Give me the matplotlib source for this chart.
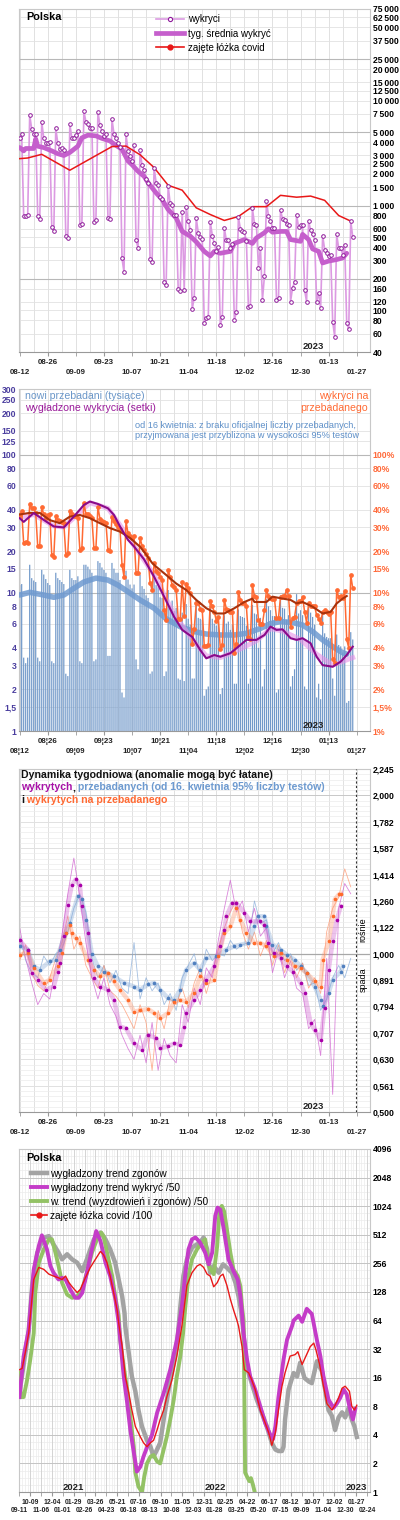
import matplotlib.pyplot as plt
import matplotlib.transforms as mtransforms
from matplotlib.lines import Line2D
from matplotlib.ticker import NullFormatter
import numpy as np
import pandas as pd

plt.rcParams['font.family'] = ['Liberation Sans', 'DejaVu Sans']

# ---------------- data: panels 1-3 (2022-08-12 .. 2023-01-26) ----------------
start = pd.Timestamp('2022-08-12')
days = pd.date_range(start, periods=167)

cases = [4360, 4790, 790, 790, 820, 7330, 5350, 4800, 4800, 790, 740,
         6280, 4400, 3990, 3990, 4000, 625, 568,
         5450, 3930, 3440, 3500, 3400, 517, 494,
         5970, 4400, 4360, 4700, 5120, 658, 666,
         8010, 6280, 5940, 5540, 5500, 690, 730,
         7850, 5850, 5120, 4650, 4790, 760, 750,
         6670, 4800, 4360, 3990, 3640, 313, 230,
         4790, 3320, 2970, 2660, 3785, 465, 394,
         3370, 2420, 2180, 1780, 1650, 307, 288,
         2300, 1650, 1560, 1200, 1150, 185, 176,
         1540, 1050, 1010, 810, 820, 159, 153,
         870, 155, 974, 710, 590, 103, 132,
         760, 550, 497, 483, 75, 85, 87,
         700, 517, 435, 366, 405, 72, 87,
         610, 465, 465, 394, 430, 80, 96,
         780, 600, 566, 555, 460, 107, 111,
         940, 672, 658, 254, 394, 126, 213,
         1100, 795, 710, 616, 616, 126, 132,
         905, 745, 730, 670, 658, 121, 164, 185,
         820, 620, 650, 645, 157, 120,
         710, 580, 535, 473, 121, 146, 105,
         517, 380, 354, 328, 340, 78, 56,
         530, 390, 394, 340, 420, 75, 66,
         710, 500]

cases_avg_day = [0, 2, 3, 7, 8, 9, 12, 16, 19, 22, 25, 29, 31, 34, 38, 41, 45, 48, 51, 54, 56, 59,
                 62, 64, 68, 71, 74, 78, 81, 85, 88, 92, 95, 97, 100, 105, 107, 112, 116, 118, 122,
                 124, 126, 130, 133, 135, 140, 141, 144, 146, 149, 151, 154, 158, 161, 163]
cases_avg = [3575, 3320, 3500, 3500, 4320, 3680, 3570, 3320, 3120, 3000, 3205, 3680, 4420, 4690,
             4620, 4370, 4130, 3750, 3440, 2660, 2450, 2120, 1900, 1650, 1320, 1140, 915, 760, 566,
             510, 450, 365, 330, 365, 350, 365, 435, 473, 435, 490, 550, 600, 556, 566, 566, 473,
             455, 530, 473, 385, 365, 283, 295, 305, 316, 350]

beds_day = [0, 4, 11, 25, 46, 53, 60, 67, 74, 81, 88, 95, 102, 109, 116, 123, 130, 138, 145, 152, 159, 165]
beds = [2800, 2840, 3080, 2170, 3650, 3690, 3050, 2300, 1560, 1400, 950, 820, 720, 785, 975, 975,
        1250, 1200, 1230, 1120, 802, 710]

tests = [11.4, 11.6, 3.4, 3.1, 3.4, 16.0, 12.8, 12.3, 12.0, 3.4, 3.2,
         14.7, 13.6, 12.6, 11.8, 11.4, 3.2, 3.1,
         14.0, 12.8, 12.4, 12.0, 11.6, 2.6, 2.5,
         14.7, 12.8, 12.4, 12.4, 13.2, 3.2, 3.1,
         16.0, 16.0, 15.5, 14.8, 14.0, 3.2, 3.3,
         17.0, 16.5, 15.3, 14.7, 14.0, 3.5, 3.5,
         16.5, 15.0, 14.0, 14.0, 12.4, 1.9, 1.75,
         14.5, 12.5, 11.5, 10.8, 11.5, 3.3, 2.8,
         13.5, 11.2, 10.7, 9.6, 9.2, 2.6, 2.7,
         14.0, 11.4, 11.0, 9.3, 9.2, 2.5, 2.7,
         10.5, 8.1, 8.8, 7.4, 7.8, 2.4, 2.35,
         7.2, 2.3, 8.3, 6.5, 5.9, 2.4, 2.4,
         9.0, 6.6, 6.5, 6.4, 1.8, 2.0, 2.1,
         8.0, 6.5, 6.0, 5.8, 6.0, 1.85, 2.05,
         6.9, 6.0, 6.2, 5.4, 5.9, 2.2, 2.2,
         7.6, 6.8, 6.7, 6.6, 5.8, 2.2, 2.4,
         8.2, 7.1, 7.0, 4.0, 6.6, 2.1, 2.8,
         9.0, 8.0, 7.5, 6.8, 6.8, 1.9, 2.0,
         9.6, 7.8, 7.7, 6.4, 6.9, 2.1, 2.5, 2.8,
         9.8, 7.1, 7.5, 6.9, 2.1, 2.0,
         8.5, 7.2, 6.7, 5.9, 1.75, 2.2, 1.7,
         7.1, 5.1, 4.8, 4.7, 4.7, 2.4, 1.8,
         5.0, 4.2, 4.1, 3.7, 4.1, 1.6, 1.65,
         5.2, 4.6]

positivity = [36.7, 39, 22.9, 23.5, 23, 44, 41, 41, 37.7, 21.7, 22,
              41.8, 37, 35, 36.5, 37.4, 18.9, 18.3,
              36, 33.5, 33, 32.5, 32, 18.9, 19.5,
              38.9, 37, 36, 36, 35, 20.5, 21,
              44.8, 37.4, 37.4, 36, 35, 21, 21,
              42, 34.5, 33, 32.5, 32, 20.5, 20,
              35.5, 33, 31.5, 30, 29, 16, 13.1,
              33, 27, 26, 25, 26, 13.9, 13.9,
              25, 22, 20.5, 19, 18, 11.8, 10.5,
              16.4, 14.5, 14, 13, 12.5, 7.5, 6.4,
              14.7, 13, 11.5, 11, 10.5, 6.5, 6.5,
              12, 6.8, 11.7, 10.9, 10, 4.3, 5.5,
              8.4, 8.4, 7.7, 7.5, 4.1, 4.1, 4.2,
              8.7, 8, 7.3, 6.3, 6.7, 3.9, 4.2,
              8.9, 7.7, 7.5, 7.3, 7.3, 3.66, 4.3,
              10.2, 8.9, 8.4, 8.4, 8.0, 4.8, 4.6,
              11.4, 9.5, 9.3, 6.4, 6.0, 6.0, 7.5,
              10.5, 9.5, 9.2, 9.0, 9.0, 6.6, 6.6,
              9.4, 9.5, 9.5, 10.5, 9.5, 5.7, 6.6, 6.7,
              8.4, 8.7, 8.7, 9.4, 7.3, 6.1,
              8.4, 8.1, 8.0, 8.0, 6.9, 6.5, 6.1,
              7.3, 7.5, 7.3, 7.0, 7.3, 3.3, 3.1,
              10.5, 9.3, 9.5, 9.2, 10.3, 4.6, 4.0,
              13.5, 10.8]

pos_trend_day = [0, 5, 10, 15, 20, 25, 30, 35, 40, 45, 50, 55, 60, 63, 66, 68, 73, 78, 83, 88, 93,
                 98, 102, 107, 112, 116, 117, 123, 126, 131, 135, 138, 141, 146, 151, 155, 158, 161, 163]
pos_trend = [37, 38, 38, 33.7, 32, 35.7, 36.7, 34.8, 32, 29.5, 27.8, 25, 21.6, 19, 16.5, 15.5, 13.5,
             11.7, 10.5, 8.9, 7.75, 7.1, 7.1, 7.75, 8.6, 9.1, 8.6, 8.6, 9.4, 9.1, 8.9, 8.4, 8.6,
             7.95, 7.1, 7.3, 8.4, 9.1, 9.5]

cases_trend_day = [0, 2, 7, 12, 17, 22, 27, 32, 35, 39, 44, 47, 50, 54, 57, 62, 67, 72, 77, 81, 86,
                   90, 93, 97, 100, 105, 108, 113, 118, 122, 125, 128, 131, 135, 138, 141, 145, 148,
                   151, 156, 160, 163, 166]
cases_trend = [34.8, 32.7, 37.9, 33.8, 30.3, 29.8, 35.7, 43.4, 45.9, 44.1, 41, 36.7, 30.3, 24.2,
               21.7, 17.5, 13.1, 9.4, 6.7, 5.4, 4.8, 3.86, 3.36, 3.55, 3.45, 3.66, 3.97, 4.57, 4.57,
               4.96, 5.7, 5.4, 5.45, 4.7, 4.57, 4.7, 4.32, 3.45, 3.0, 2.92, 3.18, 3.55, 4.08]

cases_band_day = [0, 7, 17, 22, 27, 35, 44, 50, 57, 67, 77, 86, 93, 100, 108, 118, 125, 131, 140,
                  148, 156, 166]
cases_band = [35, 37, 30.5, 30, 35, 45, 41, 31, 22, 13.5, 7, 4.6, 3.5, 3.4, 3.8, 4.5, 5.5, 5.3,
              4.6, 3.6, 3.0, 3.4]

tests_trend_day = [0, 5, 12, 17, 22, 27, 32, 38, 44, 49, 54, 60, 67, 73, 80, 87, 93, 100, 107, 113,
                   120, 125, 130, 136, 141, 146, 151, 156, 161, 163]
tests_trend = [9.66, 10.1, 9.66, 9.3, 9.66, 10.8, 12.0, 12.8, 12.4, 11.4, 10.2, 8.9, 7.75, 6.5, 5.7,
               5.25, 5.04, 4.96, 4.96, 5.1, 5.53, 6.0, 6.2, 6.1, 5.86, 5.25, 4.57, 4.08, 3.69, 3.6]

# weekly dynamics (ratio to the value a week earlier)
dyn_raw_day = list(range(0, 166, 3))
dyn_cases_raw = [1.12, 0.98, 0.88, 0.8, 0.84, 0.82, 0.95, 1.08, 1.3, 1.52, 1.28, 1.05, 0.9, 0.82,
                 0.9, 0.8, 0.76, 0.7, 0.66, 0.63, 0.7, 0.62, 0.74, 0.6, 0.69, 0.64, 0.62, 0.8, 0.74,
                 0.86, 0.8, 0.94, 0.9, 1.06, 1.22, 1.38, 1.2, 1.26, 1.1, 1.22, 1.08, 1.12, 0.92,
                 1.02, 0.9, 0.97, 0.86, 0.84, 0.72, 0.75, 0.64, 0.98, 0.54, 1.22, 1.36, 1.3]
dyn_tests_raw = [1.08, 0.97, 0.92, 0.9, 0.99, 0.95, 1.0, 1.02, 1.1, 1.22, 1.3, 1.2, 0.98, 0.9,
                 0.95, 0.88, 0.93, 0.86, 0.84, 1.05, 0.82, 0.9, 0.85, 0.88, 0.8, 0.84, 0.78, 0.9,
                 0.95, 1.0, 0.9, 1.02, 0.97, 1.0, 0.99, 1.06, 1.02, 1.04, 1.05, 1.26, 1.14, 1.16,
                 1.0, 1.05, 0.97, 1.0, 0.93, 0.96, 0.87, 0.88, 0.78, 0.82, 0.9, 0.95, 0.9, 0.98]
dyn_pos_raw = [0.97, 1.04, 0.92, 0.87, 0.85, 0.9, 0.98, 1.05, 1.18, 1.02, 1.08, 0.95, 0.9, 0.86,
               0.95, 0.85, 0.83, 0.8, 0.76, 0.72, 0.8, 0.74, 0.6, 0.78, 0.72, 0.82, 0.8, 0.86, 0.79,
               0.88, 0.94, 0.84, 0.92, 1.02, 1.12, 1.2, 1.26, 1.1, 1.02, 1.1, 0.99, 1.06, 0.95,
               1.04, 0.92, 0.99, 0.9, 0.96, 0.86, 0.9, 0.84, 1.1, 1.22, 1.28, 1.45, 1.34]

dyn_cases_day = [0, 4, 6, 9, 13, 17, 19, 20, 22, 24, 26, 28, 30, 31, 34, 35, 37, 40, 44, 47, 50,
                 53, 57, 61, 64, 68, 70, 74, 77, 80, 82, 83, 87, 90, 93, 97, 100, 102, 103, 106,
                 108, 112, 115, 120, 122, 124, 127, 130, 133, 136, 140, 142, 145, 147, 150, 152,
                 154, 156, 158, 160]
dyn_cases = [1.06, 1.018, 0.919, 0.892, 0.854, 0.866, 0.925, 0.96, 1.08, 1.24, 1.35, 1.385, 1.35,
             1.23, 1.095, 0.974, 0.899, 0.866, 0.854, 0.817, 0.727, 0.721, 0.675, 0.656, 0.701,
             0.691, 0.661, 0.667, 0.675, 0.671, 0.727, 0.771, 0.817, 0.854, 0.892, 0.946, 1.033,
             1.111, 1.178, 1.249, 1.249, 1.196, 1.152, 1.152, 1.136, 1.05, 1.003, 0.981, 0.946,
             0.925, 0.88, 0.842, 0.738, 0.716, 0.686, 0.79, 0.932, 1.055, 1.16, 1.23]
dyn_tests_day = [0, 4, 7, 10, 15, 18, 20, 23, 25, 29, 31, 33, 36, 39, 42, 47, 52, 57, 60, 64, 67,
                 70, 74, 77, 80, 83, 87, 90, 93, 98, 103, 107, 110, 114, 117, 119, 122, 123, 126,
                 130, 133, 137, 140, 143, 147, 150, 151, 154, 156, 160, 161]
dyn_tests = [1.033, 1.018, 0.946, 0.932, 0.967, 0.974, 1.018, 1.095, 1.144, 1.286, 1.268, 1.16,
             1.0, 0.946, 0.925, 0.905, 0.88, 0.866, 0.854, 0.874, 0.88, 0.854, 0.823, 0.817, 0.854,
             0.932, 0.96, 0.932, 0.981, 0.988, 1.018, 1.033, 1.04, 1.048, 1.127, 1.178, 1.178,
             1.127, 1.04, 1.018, 0.996, 0.974, 0.946, 0.919, 0.866, 0.817, 0.794, 0.842, 0.892,
             0.925, 0.946]
dyn_pos_day = [0, 4, 7, 12, 15, 19, 21, 23, 25, 26, 28, 30, 34, 37, 40, 44, 47, 50, 54, 57, 60, 64,
               67, 70, 74, 77, 80, 83, 87, 90, 93, 97, 99, 102, 105, 108, 110, 113, 117, 120, 123,
               127, 130, 133, 137, 140, 143, 147, 150, 151, 154, 156, 157, 159, 160]
dyn_pos = [0.996, 1.003, 0.94, 0.88, 0.892, 0.946, 1.003, 1.095, 1.136, 1.095, 1.071, 1.048, 0.974,
           0.932, 0.905, 0.919, 0.886, 0.854, 0.817, 0.776, 0.78, 0.785, 0.771, 0.754, 0.771, 0.81,
           0.817, 0.81, 0.842, 0.905, 0.88, 0.892, 0.988, 1.095, 1.127, 1.222, 1.16, 1.095, 1.048,
           1.048, 1.033, 0.988, 1.003, 0.974, 0.946, 0.939, 0.919, 0.886, 0.866, 0.974, 1.055,
           1.178, 1.268, 1.296, 1.3]
dyn_ticks = [0.5, 0.561, 0.630, 0.707, 0.794, 0.891, 1.0, 1.122, 1.260, 1.414, 1.587, 1.782, 2.0, 2.245]
dyn_labels = ['0,500', '0,561', '0,630', '0,707', '0,794', '0,891', '1,000', '1,122', '1,260',
              '1,414', '1,587', '1,782', '2,000', '2,245']
last_report = pd.Timestamp('2023-01-26 12:00')

# ---------------- data: panel 4 (days since 2020-09-11) ----------------
start4 = pd.Timestamp('2020-09-11')
mag_day = [0, 11, 24, 37, 50, 58, 71, 80, 88, 101, 110, 119, 131, 144, 153, 162, 174, 187, 198, 209,
           222, 234, 247, 256, 260, 269, 278, 286, 295, 303, 312, 320, 333, 342, 355, 372, 389, 406,
           419, 428, 436, 445, 454, 466, 479, 488, 497, 505, 511, 518, 527, 539, 552, 563, 570, 574,
           578, 587, 595, 608, 621, 634, 647, 654, 660, 668, 681, 690, 703, 707, 720, 729, 741, 754,
           759, 767, 776, 784, 797, 810, 819, 827, 836, 844, 853, 860, 866]
mag = [10, 27, 51, 221, 390, 505, 360, 240, 204, 173, 180, 173, 136, 111, 111, 125, 204, 360, 560,
       440, 260, 188, 110, 60, 40, 16.5, 8.6, 4.5, 2.6, 1.64, 1.85, 2.36, 3.27, 4.0, 6.8, 11, 19.4,
       40, 90, 200, 360, 458, 480, 424, 331, 250, 331, 809, 990, 940, 585, 282, 212, 173, 115, 77,
       47, 24.8, 16.5, 12, 8, 5.3, 4, 3.6, 4.9, 10, 24.8, 40, 56, 64, 72, 62, 85, 75, 59, 40, 27,
       16.5, 9.4, 7.7, 8.6, 9.8, 12, 10.7, 7.3, 5.8, 7.5]
gray_day = [0, 11, 24, 33, 46, 63, 76, 88, 101, 110, 123, 136, 149, 162, 174, 192, 209, 222, 234,
            247, 256, 265, 271, 273, 282, 290, 299, 307, 316, 329, 338, 346, 355, 363, 372, 389, 406,
            415, 423, 432, 445, 458, 466, 475, 484, 492, 501, 514, 525, 535, 548, 557, 565, 571, 576,
            582, 591, 604, 612, 625, 638, 651, 660, 668, 677, 681, 685, 694, 707, 716, 724, 735, 746,
            754, 767, 780, 789, 797, 806, 814, 823, 832, 840, 849, 857, 864, 870]
gray = [11, 22, 50, 150, 331, 478, 495, 406, 331, 282, 319, 282, 260, 212, 282, 458, 540, 458, 360,
        260, 173, 115, 77, 56, 29, 16.5, 11.5, 7.3, 4.9, 3.5, 3.0, 2.36, 2.8, 3.3, 5.8, 15.2, 34,
        90, 190, 282, 375, 406, 424, 480, 360, 204, 240, 204, 250, 230, 204, 160, 115, 84, 56, 29,
        17.9, 12, 9.4, 6.8, 4.9, 3.27, 2.8, 2.7, 2.7, 3.0, 5.8, 12, 17.9, 16.5, 23, 15.9, 14.6, 14,
        23.8, 18.7, 11.5, 7.3, 6.3, 4.5, 6.1, 6.9, 6.1, 7.7, 5.8, 4.9, 3.8]
green_day = [0, 4, 11, 20, 28, 37, 41, 50, 63, 76, 84, 93, 101, 110, 123, 136, 149, 162, 174, 187,
             200, 211, 217, 226, 239, 247, 256, 260, 269, 278, 286, 295, 299, 307, 316, 322, 329, 338,
             346, 355, 363, 372, 380, 389, 398, 406, 415, 422, 428, 436, 445, 458, 471, 479, 488,
             501, 510, 516, 522, 528, 535, 544, 552, 563, 570, 574, 578, 580, 582, 587, 593, 597,
             602, 608]
green = [18, 10, 10, 15.2, 24.8, 47, 125, 260, 360, 458, 458, 331, 240, 160, 120, 111, 115, 136, 204,
         331, 458, 540, 495, 331, 190, 115, 72, 40, 21, 12, 6.3, 3.0, 1.6, 1.14, 1.0, 1.45, 2.0,
         2.36, 2.45, 2.1, 2.0, 2.8, 3.8, 5.8, 9.4, 16.5, 27, 47, 90, 190, 282, 360, 424, 458, 240,
         197, 390, 940, 1030, 900, 585, 331, 221, 188, 146, 90, 64, 13, 1.6, 1.45, 1.3, 1.4, 1.2, 0.95]
red_day = [0, 7, 15, 24, 37, 50, 63, 76, 88, 101, 110, 119, 128, 136, 149, 157, 170, 183, 196, 209,
           217, 226, 234, 243, 252, 256, 265, 273, 282, 290, 299, 312, 320, 329, 338, 346, 355, 363,
           372, 380, 393, 406, 419, 432, 445, 458, 466, 475, 484, 492, 501, 510, 518, 525, 535, 544,
           552, 561, 565, 574, 580, 591, 599, 608, 621, 634, 643, 651, 660, 668, 677, 685, 698, 711,
           718, 729, 737, 750, 759, 765, 774, 784, 793, 806, 814, 823, 832, 840, 851, 857, 864, 870]
red = [19.4, 20, 29, 47, 173, 232, 221, 197, 188, 180, 173, 188, 160, 145, 126, 136, 180, 232, 282,
       342, 315, 260, 188, 126, 83, 60, 34, 16.5, 11, 7.3, 4.9, 3.8, 3.3, 3.0, 3.3, 3.5, 4.5, 5.8,
       7.3, 10, 15, 27, 56, 150, 204, 240, 250, 232, 197, 188, 145, 160, 188, 197, 150, 107, 83, 64,
       56, 34, 19.4, 18, 15.2, 12, 7.3, 5.3, 4.2, 3.1, 4.2, 7.3, 13, 18, 27, 28, 30, 22, 26, 34, 37,
       31, 22, 13, 8.5, 7.3, 8.2, 9.8, 12.4, 13, 11.5, 8, 7.3, 8.2]


def at(day_list, base=start):
    return base + pd.to_timedelta(day_list, unit='D')


def fx(px):
    return px / 400


def fy(py):
    return 1 - py / 1520


fig = plt.figure(figsize=(4, 15.2), dpi=100)
ax1 = fig.add_axes([fx(19), fy(352), 351 / 400, 343 / 1520])
ax2 = fig.add_axes([fx(19), fy(731), 351 / 400, 342 / 1520])
ax3 = fig.add_axes([fx(19), fy(1112), 351 / 400, 343 / 1520])
ax4 = fig.add_axes([fx(19), fy(1492), 351 / 400, 343 / 1520])

tick_kw = dict(labelsize=6.2, pad=2, length=0)


def frame(ax):
    for s in ax.spines.values():
        s.set_color('#c8c8c8')
        s.set_linewidth(0.8)
    ax.spines['bottom'].set_color('#999999')
    ax.set_axisbelow(True)


def two_rows(ax, ticks, fmt, size, gap):
    # labels alternate between an upper row (major ticks) and a lower row (minor ticks)
    lower, upper = ticks[0::2], ticks[1::2]
    ax.set_xticks(upper, [fmt(d) for d in upper])
    ax.set_xticks(lower, [fmt(d) for d in lower], minor=True)
    ax.tick_params(axis='x', which='major', labelsize=size, pad=2, length=3, color='#999999',
                   labelcolor='#222222')
    ax.tick_params(axis='x', which='minor', labelsize=size, pad=2 + gap, length=3,
                   color='#999999', labelcolor='#222222')
    for lbl in ax.get_xticklabels() + ax.get_xticklabels(minor=True):
        lbl.set_fontweight('bold')


def date_axis(ax, sep='-'):
    xt = pd.date_range('2022-08-12', '2023-01-27', freq='14D')
    two_rows(ax, xt, lambda d: d.strftime('%m') + sep + d.strftime('%d'), 5.7, 7.2)
    ax.set_xlim(start - pd.Timedelta(hours=8), start + pd.Timedelta(days=174.6))
    ax.grid(axis='x', which='both', color='#dcdcdc', lw=0.6)
    for d in pd.date_range('2022-08-19', '2023-02-02', freq='14D'):
        ax.axvline(d, color='#dcdcdc', lw=0.6, zorder=0.5)


def year_label(ax, when, text, y):
    trans = mtransforms.blended_transform_factory(ax.transData, ax.transAxes)
    ax.text(pd.Timestamp(when), y, text, transform=trans, fontsize=6.8, fontweight='bold',
            color='#222222', ha='left', va='center')


# ---------------- panel 1 ----------------
frame(ax1)
ax1.set_yscale('log')
ticks1 = [40, 60, 80, 100, 120, 160, 200, 300, 400, 500, 600, 800, 1000, 1500, 2000, 2500, 3000,
          4000, 5000, 7500, 10000, 12500, 15000, 20000, 25000, 37500, 50000, 62500, 75000]
ax1.set_yticks(ticks1, [f'{v:,}'.replace(',', '\u2009') for v in ticks1])
ax1.set_yticks([], minor=True)
ax1.set_ylim(40, 75000)
ax1.yaxis.tick_right()
ax1.tick_params(axis='y', **tick_kw)
for lbl in ax1.get_yticklabels():
    lbl.set_fontweight('bold')
ax1.grid(axis='y', color='#e2e2e2', lw=0.6)
for v in [200, 1000, 5000, 25000]:
    ax1.axhline(v, color='#b8b8b8', lw=0.8, zorder=0.6)
date_axis(ax1)

ax1.plot(days, cases, color='#dc9ae2', lw=1.2, zorder=2)
ax1.plot(at(cases_avg_day), cases_avg, color='#c55fcc', lw=3.4, solid_capstyle='round', zorder=3)
ax1.plot(at(beds_day), beds, color='#e81818', lw=1.1, zorder=4)
ax1.plot(days, cases, ls='none', marker='o', ms=2.6, mfc='white', mec='#8e1a9a', mew=0.7, zorder=5)
fig.text(fx(26), fy(17), 'Polska', fontsize=7.8, fontweight='bold', va='center')
ax1.legend(handles=[Line2D([], [], color='#dc9ae2', lw=1.2, marker='o', ms=3, mfc='white',
                           mec='#8e1a9a', mew=0.8),
                    Line2D([], [], color='#c55fcc', lw=3.4),
                    Line2D([], [], color='#e81818', lw=1.2, marker='o', ms=3.5)],
           labels=['wykryci', 'tyg. średnia wykryć', 'zajęte łóżka covid'],
           loc='upper left', bbox_to_anchor=(fx(156), fy(14.5)), bbox_transform=fig.transFigure,
           frameon=False, fontsize=7, handlelength=2.9, handletextpad=0.4, labelspacing=0.42,
           borderpad=0, borderaxespad=0)
year_label(ax1, '2022-12-31', '2023', 0.016)

# ---------------- panel 2 ----------------
frame(ax2)
ax2.set_yscale('log')
ticks2 = [1, 1.5, 2, 3, 4, 6, 8, 10, 15, 20, 30, 40, 60, 80, 100, 125, 150, 200, 250, 300]
ax2.set_yticks(ticks2, [str(v).replace('.', ',') for v in ticks2])
ax2.set_yticks([], minor=True)
ax2.set_ylim(1, 300)
ax2.tick_params(axis='y', labelcolor='#4a3d9e', **tick_kw)
for lbl in ax2.get_yticklabels():
    lbl.set_fontweight('bold')
ax2.grid(axis='y', color='#e2e2e2', lw=0.6)
for v in [10, 100]:
    ax2.axhline(v, color='#b8b8b8', lw=0.8, zorder=0.6)
ax2r = ax2.twinx()
ax2r.set_yscale('log')
ticks2r = [1, 1.5, 2, 3, 4, 6, 8, 10, 15, 20, 30, 40, 60, 80, 100]
ax2r.set_yticks(ticks2r, [str(v).replace('.', ',') + '%' for v in ticks2r])
ax2r.set_yticks([], minor=True)
ax2r.set_ylim(1, 300)
ax2r.tick_params(axis='y', labelcolor='#ff6a3a', **tick_kw)
for lbl in ax2r.get_yticklabels():
    lbl.set_fontweight('bold')
for s in ax2r.spines.values():
    s.set_visible(False)
date_axis(ax2, sep='\u00a6')

ax2.bar(days, tests, width=0.6, color='#7098c9', linewidth=0, snap=False, zorder=2)
ax2.plot(at(tests_trend_day), tests_trend, color='#6f9ad0', lw=4, alpha=0.85,
         solid_capstyle='round', zorder=3)
ax2.plot(at(cases_band_day), cases_band, color='#e690e6', lw=3.5, alpha=0.6, zorder=4)
ax2.plot(days, positivity, color='#ff6a33', lw=1.1, marker='o', ms=2.4, zorder=5)
ax2.plot(at(pos_trend_day), pos_trend, color='#a8320c', lw=1.5, zorder=6)
ax2.plot(at(cases_trend_day), cases_trend, color='#8a0a8a', lw=1.5, zorder=6)

fig.text(fx(25), fy(396), 'nowi przebadani (tysiące)', color='#6a96c8', fontsize=7.6, va='center')
fig.text(fx(25), fy(408), 'wygładzone wykrycia (setki)', color='#9a1a9a', fontsize=7.6, va='center')
fig.text(fx(368), fy(396), 'wykryci na', color='#ff6a33', fontsize=7.6, va='center', ha='right')
fig.text(fx(368), fy(408), 'przebadanego', color='#ff6a33', fontsize=7.6, va='center', ha='right')
fig.text(fx(135), fy(425), 'od 16 kwietnia: z braku oficjalnej liczby przebadanych,',
         color='#5d8fc8', fontsize=6.6, va='center')
fig.text(fx(135), fy(436), 'przyjmowana jest przybliżona w wysokości 95% testów',
         color='#5d8fc8', fontsize=6.6, va='center')
year_label(ax2, '2022-12-31', '2023', 0.016)

# ---------------- panel 3 ----------------
frame(ax3)
ax3.set_yscale('log', base=2)
ax3.set_yticks(dyn_ticks, dyn_labels)
ax3.set_yticks(2 ** (np.arange(-30, 36) / 30), minor=True)
ax3.yaxis.set_minor_formatter(NullFormatter())
ax3.set_ylim(0.5, 2.245)
ax3.yaxis.tick_right()
ax3.tick_params(axis='y', which='major', **tick_kw)
ax3.tick_params(axis='y', which='minor', length=0)
for lbl in ax3.get_yticklabels():
    lbl.set_fontweight('bold')
ax3.grid(axis='y', which='major', color='#c8c8c8', lw=0.7)
ax3.grid(axis='y', which='minor', color='#ececec', lw=0.5)
ax3.axhline(1.0, color='#a8a8a8', lw=0.9, zorder=0.6)
date_axis(ax3)

raw_days = at(dyn_raw_day)
for raw, sd, sv, col, dot in [(dyn_tests_raw, dyn_tests_day, dyn_tests, '#7fa6d6', '#4f7fbf'),
                              (dyn_pos_raw, dyn_pos_day, dyn_pos, '#ff9066', '#ff6a2a'),
                              (dyn_cases_raw, dyn_cases_day, dyn_cases, '#cc55cc', '#a800a8')]:
    ax3.plot(raw_days, raw, color=col, lw=0.6, alpha=0.7, zorder=2)
    ax3.plot(at(sd), sv, color=col, lw=3.2, alpha=0.35, zorder=3)
    ax3.plot(at(sd), sv, color=dot, lw=0.5, ls='none', marker='o', ms=1.6, zorder=4)
ax3.axvline(last_report, color='#333333', lw=0.8, ls=(0, (2, 2)), zorder=5)
fig.text(fx(363), fy(930), 'rośnie', rotation=90, fontsize=6.5, ha='center', va='center')
fig.text(fx(363), fy(980), 'spada', rotation=90, fontsize=6.5, ha='center', va='center')
year_label(ax3, '2022-12-31', '2023', 0.016)

renderer = fig.canvas.get_renderer()


def colored_line(px, py, parts):
    x = fx(px)
    for txt, col in parts:
        t = fig.text(x, fy(py), txt, color=col, fontsize=7.6, fontweight='bold', va='center')
        x = t.get_window_extent(renderer).x1 / fig.bbox.width


colored_line(21, 775, [('Dynamika tygodniowa (anomalie mogą być łatane)', '#111111')])
colored_line(21, 787.5, [('wykrytych', '#a812a8'), (',', '#111111'),
                         (' przebadanych (od 16. kwietnia 95% liczby testów)', '#6d9ad0')])
colored_line(21, 800, [('i', '#111111'), (' wykrytych na przebadanego', '#ff6a33')])

# ---------------- panel 4 ----------------
frame(ax4)
ax4.set_yscale('log', base=2)
ticks4 = [1, 2, 4, 8, 16, 32, 64, 128, 256, 512, 1024, 2048, 4096]
ax4.set_yticks(ticks4, [str(v) for v in ticks4])
ax4.set_ylim(1, 4096)
ax4.yaxis.tick_right()
ax4.tick_params(axis='y', which='major', **tick_kw)
ax4.tick_params(axis='y', which='minor', length=0)
ax4.yaxis.set_minor_formatter(NullFormatter())
for lbl in ax4.get_yticklabels():
    lbl.set_fontweight('bold')
ax4.grid(axis='y', which='major', color='#c4c4c4', lw=0.7)
for v in 2 ** (np.arange(0, 49) / 4):
    ax4.axhline(v, color='#ececec', lw=0.5, zorder=0.4)
xt4 = pd.date_range('2020-09-11', '2023-02-24', freq='28D')
two_rows(ax4, xt4, lambda d: d.strftime('%m-%d'), 4.9, 5.8)
ax4.set_xlim(start4 - pd.Timedelta(days=1), start4 + pd.Timedelta(days=904))
ax4.grid(axis='x', which='both', color='#d0d0d0', lw=0.6)
for d in pd.date_range('2020-09-11', '2023-03-04', freq='7D'):
    ax4.axvline(d, color='#ececec', lw=0.5, zorder=0.4)

ax4.plot(at(gray_day, start4), gray, color='#a3a3a3', lw=3.2, zorder=2)
ax4.plot(at(green_day, start4), green, color='#93c265', lw=2.8, zorder=3)
ax4.plot(at(mag_day, start4), mag, color='#c43cc8', lw=2.8, zorder=4)
ax4.plot(at(red_day, start4), red, color='#e81818', lw=1.0, zorder=5)
fig.text(fx(26), fy(1158), 'Polska', fontsize=7.8, fontweight='bold', va='center')
ax4.legend(handles=[Line2D([], [], color='#a3a3a3', lw=3.2),
                    Line2D([], [], color='#c43cc8', lw=2.8),
                    Line2D([], [], color='#93c265', lw=2.8),
                    Line2D([], [], color='#e81818', lw=1.2, marker='o', ms=3.5)],
           labels=['wygładzony trend zgonów', 'wygładzony trend wykryć /50',
                   'w. trend (wyzdrowień i zgonów) /50', 'zajęte łóżka covid /100'],
           loc='upper left', bbox_to_anchor=(fx(31), fy(1169)), bbox_transform=fig.transFigure,
           frameon=False, fontsize=7.3, handlelength=1.6, handletextpad=0.3, labelspacing=0.38,
           borderpad=0, borderaxespad=0)
year_label(ax4, '2021-01-01', '2021', 0.012)
year_label(ax4, '2022-01-01', '2022', 0.012)
year_label(ax4, '2023-01-01', '2023', 0.012)

fig.savefig('out.png', dpi=100)
